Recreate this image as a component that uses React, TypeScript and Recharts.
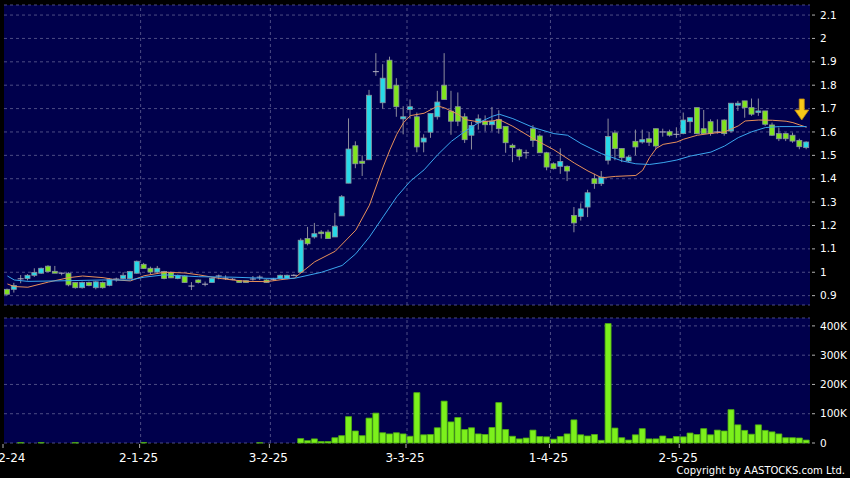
import {
  ComposedChart,
  Bar,
  Line,
  XAxis,
  YAxis,
  CartesianGrid,
  ReferenceLine,
  ReferenceDot,
} from "recharts";

// daily prices, index 0 = 2-12-24
const opens = [
  0.927, 0.927, 0.972, 0.973, 0.987, 0.996, 1.026, 1.004, 0.996, 0.996,
  0.956, 0.934, 0.956, 0.934, 0.956, 0.944, 0.971, 0.973, 0.973, 0.996,
  1.034, 1.017, 1.001, 1.003, 1.0, 0.973, 0.984, 0.941, 0.967, 0.949,
  0.956, 0.984, 0.974, 0.97, 0.964, 0.964, 0.971, 0.979, 0.967, 0.97,
  0.973, 0.973, 0.987, 1.0, 1.144, 1.151, 1.172, 1.172, 1.151, 1.241,
  1.381, 1.541, 1.475, 1.481, 1.858, 1.725, 1.907, 1.8, 1.656, 1.696,
  1.665, 1.557, 1.599, 1.665, 1.8, 1.689, 1.708, 1.665, 1.586, 1.639,
  1.646, 1.631, 1.653, 1.624, 1.543, 1.524, 1.511, 1.614, 1.583, 1.511,
  1.464, 1.453, 1.453, 1.243, 1.239, 1.279, 1.4, 1.379, 1.479, 1.596,
  1.529, 1.476, 1.56, 1.557, 1.571, 1.614, 1.6, 1.601, 1.59, 1.593,
  1.644, 1.704, 1.614, 1.644, 1.6, 1.651, 1.604, 1.714, 1.733, 1.704,
  1.683, 1.69, 1.63, 1.593, 1.593, 1.586, 1.564, 1.533,
];

const closes = [
  0.906, 0.943, 0.972, 0.987, 0.999, 1.017, 1.003, 0.996, 0.996, 0.946,
  0.934, 0.956, 0.943, 0.959, 0.934, 0.97, 0.971, 0.987, 1.003, 1.047,
  1.016, 1.001, 1.017, 0.973, 0.976, 0.987, 0.956, 0.941, 0.956, 0.949,
  0.974, 0.984, 0.974, 0.97, 0.956, 0.956, 0.971, 0.979, 0.956, 0.97,
  0.987, 0.987, 0.987, 1.137, 1.122, 1.165, 1.165, 1.144, 1.197, 1.323,
  1.527, 1.464, 1.466, 1.757, 1.858, 1.83, 1.785, 1.708, 1.665, 1.708,
  1.536, 1.574, 1.679, 1.728, 1.739, 1.646, 1.646, 1.567, 1.628, 1.656,
  1.631, 1.646, 1.614, 1.554, 1.533, 1.496, 1.511, 1.564, 1.511, 1.45,
  1.443, 1.474, 1.433, 1.211, 1.271, 1.34, 1.379, 1.407, 1.581, 1.529,
  1.49, 1.493, 1.536, 1.567, 1.556, 1.54, 1.6, 1.586, 1.59, 1.651,
  1.661, 1.593, 1.593, 1.593, 1.6, 1.593, 1.723, 1.723, 1.704, 1.676,
  1.69, 1.633, 1.586, 1.571, 1.571, 1.561, 1.537, 1.557,
];

const highs = [
  0.93, 0.955, 0.988, 0.992, 1.017, 1.02, 1.03, 1.027, 0.999, 1.0,
  0.958, 0.96, 0.96, 0.962, 0.96, 0.975, 0.977, 1.0, 1.006, 1.05,
  1.04, 1.024, 1.027, 1.006, 1.004, 0.99, 0.987, 0.958, 0.97, 0.96,
  0.977, 0.99, 0.987, 0.975, 0.966, 0.966, 0.984, 0.987, 0.97, 0.976,
  0.99, 0.99, 0.992, 1.145, 1.194, 1.211, 1.18, 1.182, 1.254, 1.33,
  1.658, 1.56, 1.5, 1.78, 1.937, 1.89, 1.922, 1.83, 1.71, 1.739,
  1.683, 1.59, 1.679, 1.776, 1.937, 1.776, 1.769, 1.68, 1.643, 1.675,
  1.671, 1.707, 1.693, 1.624, 1.55, 1.529, 1.524, 1.629, 1.59, 1.515,
  1.47, 1.53, 1.457, 1.279, 1.295, 1.353, 1.421, 1.433, 1.657, 1.607,
  1.529, 1.5, 1.61, 1.61, 1.6, 1.614, 1.614, 1.61, 1.62, 1.683,
  1.661, 1.704, 1.694, 1.654, 1.654, 1.654, 1.723, 1.733, 1.733, 1.743,
  1.743, 1.69, 1.64, 1.619, 1.597, 1.597, 1.571, 1.56,
];

const lows = [
  0.9, 0.913, 0.953, 0.965, 0.98, 0.993, 1.0, 0.996, 0.987, 0.94,
  0.93, 0.93, 0.94, 0.927, 0.93, 0.94, 0.96, 0.97, 0.97, 0.994,
  1.014, 0.99, 0.995, 0.97, 0.975, 0.97, 0.955, 0.924, 0.952, 0.94,
  0.955, 0.97, 0.967, 0.966, 0.955, 0.955, 0.964, 0.967, 0.955, 0.964,
  0.97, 0.97, 0.983, 0.998, 1.115, 1.144, 1.144, 1.144, 1.151, 1.241,
  1.381, 1.445, 1.412, 1.481, 1.84, 1.7, 1.785, 1.665, 1.59, 1.657,
  1.513, 1.513, 1.575, 1.653, 1.739, 1.588, 1.625, 1.553, 1.525, 1.61,
  1.603, 1.603, 1.593, 1.511, 1.471, 1.479, 1.486, 1.536, 1.511, 1.436,
  1.44, 1.421, 1.39, 1.171, 1.221, 1.236, 1.357, 1.369, 1.461, 1.479,
  1.471, 1.471, 1.5, 1.55, 1.54, 1.527, 1.58, 1.58, 1.575, 1.59,
  1.596, 1.59, 1.593, 1.584, 1.593, 1.584, 1.597, 1.69, 1.661, 1.669,
  1.669, 1.626, 1.583, 1.561, 1.561, 1.554, 1.526, 1.526,
];

// volume in thousands of shares
const volumesK = [
  0, 0, 1.2, 0, 0, 1.2, 0, 0, 0, 0,
  1.2, 0, 0, 0, 0, 0, 0, 0, 0, 0,
  1.5, 0, 0, 0, 0, 0, 0, 0, 0, 0,
  0, 0, 0, 0, 0, 0, 0, 0.8, 0, 0,
  0, 0, 0, 15, 8, 14, 5, 5, 18, 25,
  90, 41, 25, 85, 102, 35, 31, 35, 31, 23,
  172, 28, 29, 52, 143, 72, 87, 46, 52, 31,
  29, 53, 138, 46, 23, 14, 17, 44, 22, 21,
  13, 22, 31, 79, 28, 24, 29, 9, 408, 51,
  18, 10, 28, 49, 14, 14, 24, 15, 22, 21,
  34, 29, 49, 28, 44, 41, 114, 62, 43, 30,
  62, 43, 38, 31, 18, 18, 17, 10,
];

// moving averages: [day index, value]
const maShortPoints = [
  [0, 0.95], [1, 0.939], [3, 0.936], [6, 0.958], [9, 0.977], [11, 0.984],
  [14, 0.977], [16, 0.967], [18, 0.963], [20, 0.985], [23, 1.0], [26, 0.997],
  [28, 0.989], [31, 0.974], [33, 0.967], [35, 0.961], [38, 0.96], [40, 0.968],
  [42, 0.975], [45, 1.045], [48, 1.09], [51, 1.18], [53, 1.287], [55, 1.45],
  [56, 1.524], [57, 1.59], [58, 1.64], [59, 1.67], [61, 1.68], [63, 1.711],
  [64, 1.703], [66, 1.675], [67, 1.653], [69, 1.643], [71, 1.647], [72, 1.653],
  [74, 1.624], [77, 1.571], [80, 1.524], [83, 1.467], [85, 1.433], [87, 1.404],
  [89, 1.41], [92, 1.414], [93, 1.436], [94, 1.49], [95, 1.53], [96, 1.547],
  [98, 1.557], [99, 1.569], [101, 1.586], [103, 1.594], [105, 1.6], [107, 1.626],
  [108, 1.647], [110, 1.651], [112, 1.65], [114, 1.646], [115, 1.64], [116, 1.63],
  [117, 1.62],
];

const maLongPoints = [
  [0, 0.984], [1, 0.967], [3, 0.961], [9, 0.964], [14, 0.967], [18, 0.967],
  [20, 0.979], [23, 0.989], [28, 0.981], [33, 0.979], [38, 0.974], [42, 0.974],
  [46, 1.0], [49, 1.029], [51, 1.079], [53, 1.151], [55, 1.237], [57, 1.323],
  [59, 1.39], [61, 1.438], [63, 1.503], [65, 1.56], [67, 1.603], [69, 1.64],
  [71, 1.667], [72, 1.676], [74, 1.657], [77, 1.619], [80, 1.593], [82, 1.586],
  [84, 1.55], [87, 1.507], [90, 1.476], [92, 1.464], [94, 1.461], [96, 1.469],
  [98, 1.48], [100, 1.497], [103, 1.514], [105, 1.54], [107, 1.576], [109, 1.601],
  [111, 1.619], [113, 1.623], [117, 1.623],
];

const tickIndex = [0, 20, 39, 59, 80, 99];
const tickLabels = ["2-12-24", "2-1-25", "3-2-25", "3-3-25", "1-4-25", "2-5-25"];
const priceTicks = [0.9, 1, 1.1, 1.2, 1.3, 1.4, 1.5, 1.6, 1.7, 1.8, 1.9, 2, 2.1];
const volumeTicks = [0, 100, 200, 300, 400];

const NAVY = "#00004c";
const GRID = "#4c4c84";
const UP = "#27d9e8";
const DOWN = "#80e41e";
const FONT = "DejaVu Sans";
const PLOT_W = 806;

function pointsAt(points: number[][], i: number) {
  const p = points.find((q) => q[0] === i);
  return p ? p[1] : null;
}

const rows = opens.map((o, i) => ({
  idx: i,
  open: o,
  high: highs[i],
  low: lows[i],
  close: closes[i],
  volume: volumesK[i],
  maShort: pointsAt(maShortPoints, i),
  maLong: pointsAt(maLongPoints, i),
}));

const HALF_BAND = PLOT_W / rows.length / 2;

function Candle(props: any) {
  const { x, y, width, height, payload } = props;
  if (!payload || height == null) return null;
  const { open, close, high, low } = payload;
  const h = Math.abs(height);
  const top = Math.min(y, y + height);
  const k = high > low ? h / (high - low) : 0;
  const py = (v: number) => top + (high - v) * k;
  const cx = x + width / 2;
  const bTop = py(Math.max(open, close));
  const bBot = py(Math.min(open, close));
  const fill = close > open ? UP : DOWN;
  return (
    <g>
      <line x1={cx} x2={cx} y1={top} y2={top + h} stroke="#8c8c9c" strokeWidth={1} />
      {open === close ? (
        <line x1={x} x2={x + width} y1={bTop} y2={bTop} stroke="#b4b4c4" strokeWidth={1} />
      ) : (
        <rect
          x={x + 0.5}
          y={bTop}
          width={width - 1}
          height={Math.max(1, bBot - bTop)}
          fill={fill}
          stroke="#8a94a0"
          strokeWidth={0.8}
        />
      )}
    </g>
  );
}

function RightTick(props: any) {
  const { x, y, payload, fmt } = props;
  return (
    <g>
      <line x1={x + 2} x2={x + 5} y1={y} y2={y} stroke="#b0b0b0" strokeWidth={1} />
      <text x={x + 10} y={y} dy={3.6} fill="#ffffff" fontSize={10.5} fontFamily={FONT}>
        {fmt(payload.value)}
      </text>
    </g>
  );
}

function DateTick(props: any) {
  const { x, y, payload } = props;
  const k = tickIndex.indexOf(payload.value);
  const bx = x - HALF_BAND;
  return (
    <g>
      <line x1={bx - 1} x2={bx - 1} y1={y + 1} y2={y + 5} stroke="#b0b0b0" strokeWidth={1} />
      <text x={bx - 2} y={y + 19} textAnchor="middle" fill="#ffffff" fontSize={12} fontFamily={FONT}>
        {k >= 0 ? tickLabels[k] : ""}
      </text>
    </g>
  );
}

function DownArrow(props: any) {
  const { cx, cy } = props;
  const x = cx + 2;
  return (
    <polygon
      points={`${x - 2.5},${cy} ${x + 2.5},${cy} ${x + 2.5},${cy + 11} ${x + 7},${cy + 11} ${x},${cy + 21} ${x - 7},${cy + 11} ${x - 2.5},${cy + 11}`}
      fill="#f8c818"
      stroke="#c08a10"
      strokeWidth={0.8}
    />
  );
}

function monthLines() {
  return tickIndex.slice(1).map((t) => (
    <ReferenceLine key={t} x={t} position="start" stroke={GRID} strokeDasharray="3 3" />
  ));
}

export default function App() {
  return (
    <div
      style={{
        position: "absolute",
        left: 0,
        top: 0,
        width: 850,
        height: 478,
        background: "#000000",
        fontFamily: FONT,
        overflow: "hidden",
      }}
    >
      <div style={{ position: "absolute", left: 0, top: 0 }}>
        <ComposedChart
          width={850}
          height={310}
          data={rows}
          margin={{ top: 5, right: 0, bottom: 5, left: 4 }}
          barCategoryGap={0}
        >
          <CartesianGrid vertical={false} fill={NAVY} stroke={GRID} strokeDasharray="3 3" />
          <XAxis dataKey="idx" hide />
          <YAxis
            orientation="right"
            width={40}
            domain={[0.86, 2.143]}
            ticks={priceTicks}
            interval={0}
            axisLine={false}
            tickLine={false}
            tickSize={0}
            tickMargin={0}
            tick={<RightTick fmt={(v: number) => String(v)} />}
          />
          {monthLines()}
          <Bar
            dataKey={(d: any) => [d.low, d.high]}
            barSize={6}
            shape={(p: any) => <Candle {...p} />}
            isAnimationActive={false}
          />
          <Line
            dataKey="maShort"
            stroke="#e8905a"
            strokeWidth={1}
            dot={false}
            connectNulls
            isAnimationActive={false}
          />
          <Line
            dataKey="maLong"
            stroke="#3aa6ee"
            strokeWidth={1}
            dot={false}
            connectNulls
            isAnimationActive={false}
          />
          <ReferenceDot x={116} y={1.741} r={0} shape={(p: any) => <DownArrow {...p} />} />
        </ComposedChart>
      </div>

      <div style={{ position: "absolute", left: 0, top: 310 }}>
        <ComposedChart
          width={850}
          height={168}
          data={rows}
          margin={{ top: 8, right: 0, bottom: 0, left: 4 }}
          barCategoryGap={0}
        >
          <CartesianGrid vertical={false} fill={NAVY} stroke={GRID} strokeDasharray="3 3" />
          <XAxis
            dataKey="idx"
            ticks={tickIndex}
            interval={0}
            height={35}
            axisLine={false}
            tickLine={false}
            tickSize={0}
            tickMargin={0}
            tick={<DateTick />}
          />
          <YAxis
            orientation="right"
            width={40}
            domain={[0, 427]}
            ticks={volumeTicks}
            interval={0}
            axisLine={false}
            tickLine={false}
            tickSize={0}
            tickMargin={0}
            tick={<RightTick fmt={(v: number) => (v === 0 ? "0" : `${v}K`)} />}
          />
          {monthLines()}
          <Bar
            dataKey="volume"
            barSize={6}
            fill="#7cf01c"
            stroke="#4fae12"
            strokeWidth={0.8}
            isAnimationActive={false}
          />
        </ComposedChart>
      </div>

      <div
        style={{
          position: "absolute",
          right: 5,
          top: 465,
          fontSize: 10,
          lineHeight: "12px",
          color: "#ffffff",
          fontFamily: FONT,
          whiteSpace: "nowrap",
        }}
      >
        Copyright by AASTOCKS.com Ltd.
      </div>
    </div>
  );
}
